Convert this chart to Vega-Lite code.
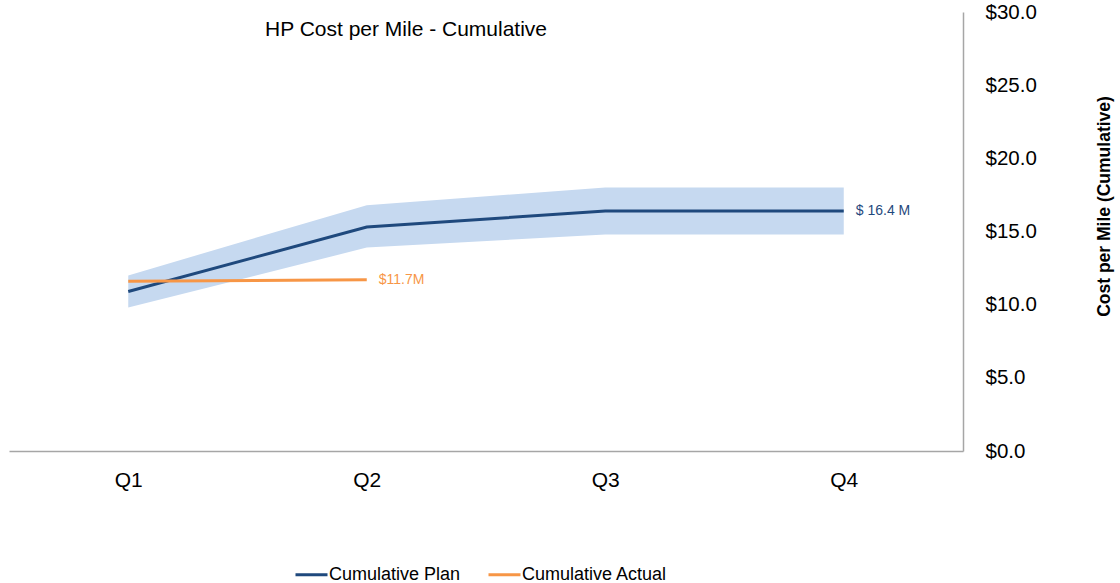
{
  "$schema": "https://vega.github.io/schema/vega-lite/v6.json",
  "autosize": "none",
  "width": 954,
  "height": 439,
  "padding": {"left": 9, "top": 12, "right": 157, "bottom": 132},
  "background": "white",
  "config": {
    "view": {"stroke": null},
    "font": "Liberation Sans"
  },
  "title": {
    "text": "HP Cost per Mile - Cumulative",
    "anchor": "start",
    "dx": 256,
    "dy": 42,
    "fontSize": 21,
    "fontWeight": "normal",
    "color": "#000000",
    "font": "Liberation Sans"
  },
  "datasets": {
    "band": [
      {"quarter": "Q1", "low": 9.8, "high": 12.0},
      {"quarter": "Q2", "low": 13.9, "high": 16.8},
      {"quarter": "Q3", "low": 14.8, "high": 18.0},
      {"quarter": "Q4", "low": 14.8, "high": 18.0}
    ],
    "lines": [
      {"quarter": "Q1", "series": "Cumulative Plan", "value": 10.9},
      {"quarter": "Q2", "series": "Cumulative Plan", "value": 15.3},
      {"quarter": "Q3", "series": "Cumulative Plan", "value": 16.4},
      {"quarter": "Q4", "series": "Cumulative Plan", "value": 16.4},
      {"quarter": "Q1", "series": "Cumulative Actual", "value": 11.6},
      {"quarter": "Q2", "series": "Cumulative Actual", "value": 11.7}
    ],
    "labels": [
      {"quarter": "Q4", "series": "Cumulative Plan", "value": 16.4, "label": "$ 16.4 M"},
      {"quarter": "Q2", "series": "Cumulative Actual", "value": 11.7, "label": "$11.7M"}
    ]
  },
  "encoding": {
    "x": {
      "field": "quarter",
      "type": "ordinal",
      "scale": {"type": "point", "padding": 0.5, "domain": ["Q1", "Q2", "Q3", "Q4"]},
      "axis": {
        "title": null,
        "labelAngle": 0,
        "labelFontSize": 21,
        "labelColor": "#000000",
        "labelPadding": 18,
        "ticks": false,
        "domainColor": "#a6a6a6",
        "domainWidth": 1.5,
        "grid": false
      }
    }
  },
  "layer": [
    {
      "data": {"name": "band"},
      "mark": {"type": "area", "color": "#c6d9f0", "opacity": 1},
      "encoding": {
        "y": {
          "field": "low",
          "type": "quantitative",
          "scale": {"domain": [0, 30], "nice": false},
          "axis": {
            "orient": "right",
            "title": "Cost per Mile (Cumulative)",
            "titleFontSize": 17.5,
            "titleFontWeight": "bold",
            "titleColor": "#000000",
            "titleAngle": 270,
            "titleY": 194,
            "titlePadding": 77,
            "values": [0, 5, 10, 15, 20, 25, 30],
            "format": "$.1f",
            "labelFontSize": 20.5,
            "labelColor": "#000000",
            "labelPadding": 22,
            "ticks": false,
            "grid": false,
            "domainColor": "#a6a6a6",
            "domainWidth": 1.5
          }
        },
        "y2": {"field": "high"}
      }
    },
    {
      "data": {"name": "lines"},
      "mark": {"type": "line", "strokeWidth": 3},
      "encoding": {
        "y": {"field": "value", "type": "quantitative"},
        "color": {
          "field": "series",
          "type": "nominal",
          "scale": {"domain": ["Cumulative Plan", "Cumulative Actual"], "range": ["#1f497d", "#f79646"]},
          "legend": {
            "title": null,
            "orient": "none",
            "legendX": 285,
            "legendY": 545,
            "direction": "horizontal",
            "symbolType": "stroke",
            "symbolSize": 1024,
            "symbolStrokeWidth": 3,
            "labelFontSize": 18,
            "labelColor": "#000000",
            "columnPadding": 21,
            "labelOffset": 0
          }
        }
      }
    },
    {
      "data": {"name": "labels"},
      "mark": {"type": "text", "align": "left", "dx": 12, "fontSize": 14, "baseline": "middle"},
      "encoding": {
        "y": {"field": "value", "type": "quantitative"},
        "text": {"field": "label"},
        "color": {"field": "series", "type": "nominal", "legend": null}
      }
    }
  ]
}
